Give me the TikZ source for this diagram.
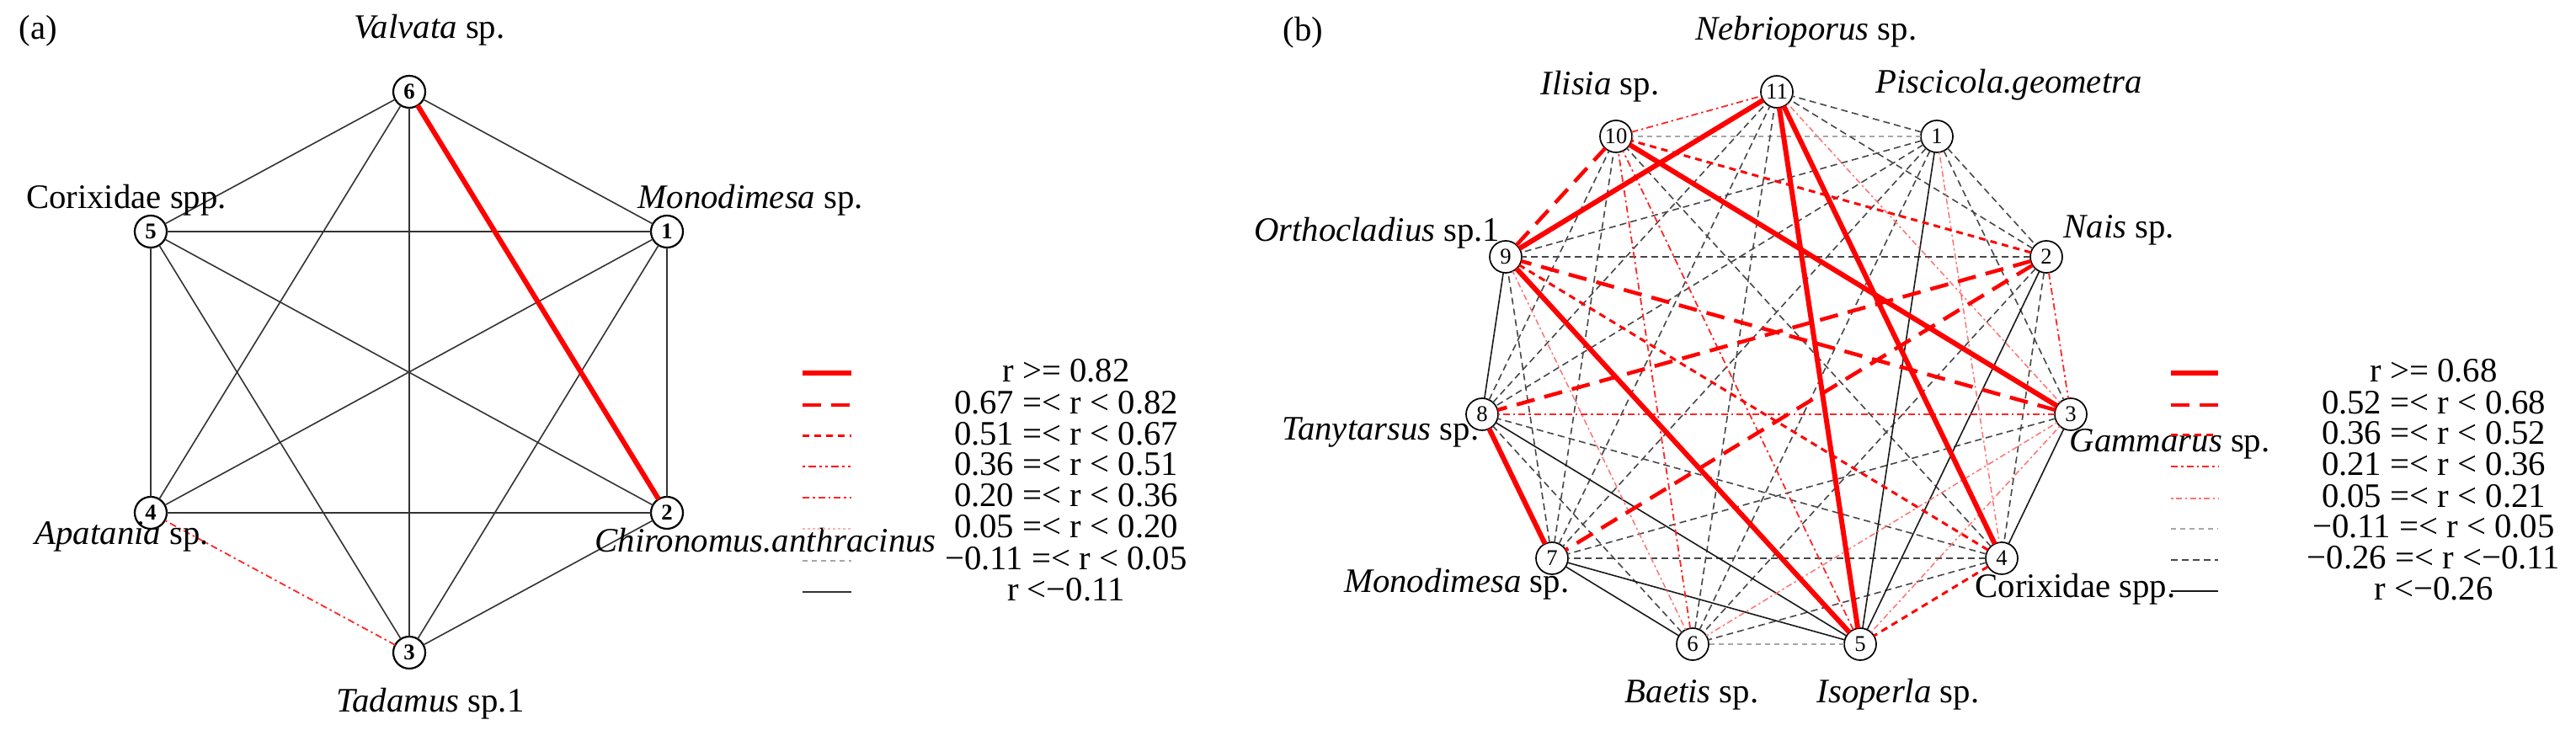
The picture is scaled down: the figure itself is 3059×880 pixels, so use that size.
\documentclass[tikz,border=0pt]{standalone}
\usepackage{fontspec}
\setmainfont{Liberation Serif}
\usepackage{tikz,tkz-graph}

\newcommand{\lbl}{\fontsize{11.6pt}{13pt}\selectfont}
\newcommand{\vnum}{\fontsize{7.6pt}{8pt}\selectfont}

\begin{document}
\begin{tikzpicture}[x = 0.1mm, y = -0.1mm]
\tikzstyle{VertexStyle} = []
\tikzstyle{EdgeStyle} = []
\tikzstyle{boldStyle}=[shape = circle, minimum size = 3.8mm, inner sep = 0pt, draw, line width = 0.22mm, fill = white, font = \vnum\bfseries]
\tikzstyle{plainStyle}=[shape = circle, minimum size = 3.8mm, inner sep = 0pt, draw, line width = 0.17mm, fill = white, font = \vnum]
\tikzstyle{nameStyle}=[inner sep = 0pt, font = \lbl]
\tikzstyle{solidRedStyle}=[red, line width = 0.6mm]
\tikzstyle{dashRedStyle}=[red, line width = 0.45mm, dash pattern = on 2.2mm off 1.2mm]
\tikzstyle{dotRedStyle}=[red, line width = 0.3mm, dash pattern = on 0.8mm off 0.6mm]
\tikzstyle{twodashRedStyle}=[red, line width = 0.22mm, dash pattern = on 0.3mm off 0.4mm on 0.9mm off 0.4mm on 0.3mm off 0.4mm]
\tikzstyle{dashdotRedStyle}=[red!85, line width = 0.18mm, dash pattern = on 0.8mm off 0.4mm on 0.25mm off 0.4mm]
\tikzstyle{pinkStyle}=[red!55, line width = 0.15mm, dash pattern = on 0.25mm off 0.35mm on 0.7mm off 0.35mm]
\tikzstyle{pinkDotStyle}=[red!30, line width = 0.15mm, dash pattern = on 0.3mm off 0.3mm]
\tikzstyle{faintStyle}=[black!35, line width = 0.16mm, dash pattern = on 0.6mm off 0.5mm]
\tikzstyle{greyDashStyle}=[black!72, line width = 0.16mm, dash pattern = on 0.8mm off 0.5mm]
\tikzstyle{greyStyle}=[black!80, line width = 0.16mm]
\tikzstyle{blackStyle}=[black!90, line width = 0.16mm]
\useasboundingbox (0,0) rectangle (3059,880);
\Vertex[style = boldStyle, x = 792, y = 275, L = {1}]{u1}
\Vertex[style = boldStyle, x = 792, y = 609, L = {2}]{u2}
\Vertex[style = boldStyle, x = 486, y = 775, L = {3}]{u3}
\Vertex[style = boldStyle, x = 179, y = 609, L = {4}]{u4}
\Vertex[style = boldStyle, x = 179, y = 275, L = {5}]{u5}
\Vertex[style = boldStyle, x = 486, y = 109, L = {6}]{u6}
\Edge[style = greyStyle](u1)(u2)
\Edge[style = greyStyle](u1)(u3)
\Edge[style = greyStyle](u1)(u4)
\Edge[style = greyStyle](u1)(u5)
\Edge[style = greyStyle](u1)(u6)
\Edge[style = greyStyle](u2)(u3)
\Edge[style = greyStyle](u2)(u4)
\Edge[style = greyStyle](u2)(u5)
\Edge[style = greyStyle](u3)(u5)
\Edge[style = greyStyle](u3)(u6)
\Edge[style = greyStyle](u4)(u5)
\Edge[style = greyStyle](u4)(u6)
\Edge[style = greyStyle](u5)(u6)
\Edge[style = dashdotRedStyle](u3)(u4)
\Edge[style = solidRedStyle](u2)(u6)
\node[nameStyle, anchor = west] (pa) at (22, 37) {(a)};
\node[nameStyle] (nu6) at (510, 36) {\textit{Valvata} sp.};
\node[nameStyle] (nu5) at (150, 238) {Corixidae spp.};
\node[nameStyle, anchor = west] (nu1) at (757, 238) {\textit{Monodimesa} sp.};
\node[nameStyle, anchor = west] (nu4) at (41, 637) {\textit{Apatania} sp.};
\node[nameStyle, anchor = west] (nu2) at (706, 642) {\textit{Chironomus.anthracinus}};
\node[nameStyle] (nu3) at (511, 836) {\textit{Tadamus} sp.1};
\draw[solidRedStyle] (953, 443) -- (1011, 443);
\draw[dashRedStyle] (953, 481) -- (1011, 481);
\draw[dotRedStyle] (953, 518) -- (1011, 518);
\draw[twodashRedStyle] (953, 554) -- (1011, 554);
\draw[dashdotRedStyle] (953, 591) -- (1011, 591);
\draw[pinkDotStyle] (953, 628) -- (1011, 628);
\draw[faintStyle] (953, 666) -- (1011, 666);
\draw[greyStyle] (953, 703) -- (1011, 703);
\node[nameStyle] (ka1) at (1266, 440) {r >= 0.82};
\node[nameStyle] (ka2) at (1266, 478) {0.67 =< r < 0.82};
\node[nameStyle] (ka3) at (1266, 515) {0.51 =< r < 0.67};
\node[nameStyle] (ka4) at (1266, 551) {0.36 =< r < 0.51};
\node[nameStyle] (ka5) at (1266, 588) {0.20 =< r < 0.36};
\node[nameStyle] (ka6) at (1266, 625) {0.05 =< r < 0.20};
\node[nameStyle] (ka7) at (1266, 663) {−0.11 =< r < 0.05};
\node[nameStyle] (ka8) at (1266, 700) {r <−0.11};
\Vertex[style = plainStyle, x = 2300, y = 162, L = {1}]{v1}
\Vertex[style = plainStyle, x = 2430, y = 305, L = {2}]{v2}
\Vertex[style = plainStyle, x = 2459, y = 492, L = {3}]{v3}
\Vertex[style = plainStyle, x = 2377, y = 663, L = {4}]{v4}
\Vertex[style = plainStyle, x = 2209, y = 765, L = {5}]{v5}
\Vertex[style = plainStyle, x = 2010, y = 765, L = {6}]{v6}
\Vertex[style = plainStyle, x = 1843, y = 663, L = {7}]{v7}
\Vertex[style = plainStyle, x = 1760, y = 492, L = {8}]{v8}
\Vertex[style = plainStyle, x = 1788, y = 305, L = {9}]{v9}
\Vertex[style = plainStyle, x = 1919, y = 162, L = {10}]{v10}
\Vertex[style = plainStyle, x = 2110, y = 109, L = {11}]{v11}
\Edge[style = faintStyle](v1)(v10)
\Edge[style = faintStyle](v5)(v6)
\Edge[style = greyDashStyle](v1)(v2)
\Edge[style = greyDashStyle](v1)(v3)
\Edge[style = greyDashStyle](v1)(v6)
\Edge[style = greyDashStyle](v1)(v7)
\Edge[style = greyDashStyle](v1)(v8)
\Edge[style = greyDashStyle](v1)(v9)
\Edge[style = greyDashStyle](v1)(v11)
\Edge[style = greyDashStyle](v2)(v4)
\Edge[style = greyDashStyle](v2)(v6)
\Edge[style = greyDashStyle](v2)(v9)
\Edge[style = greyDashStyle](v2)(v11)
\Edge[style = greyDashStyle](v3)(v7)
\Edge[style = greyDashStyle](v4)(v6)
\Edge[style = greyDashStyle](v4)(v7)
\Edge[style = greyDashStyle](v4)(v8)
\Edge[style = greyDashStyle](v4)(v10)
\Edge[style = greyDashStyle](v6)(v8)
\Edge[style = greyDashStyle](v6)(v11)
\Edge[style = greyDashStyle](v7)(v9)
\Edge[style = greyDashStyle](v7)(v10)
\Edge[style = greyDashStyle](v7)(v11)
\Edge[style = greyDashStyle](v8)(v10)
\Edge[style = greyDashStyle](v8)(v11)
\Edge[style = blackStyle](v1)(v5)
\Edge[style = blackStyle](v2)(v5)
\Edge[style = blackStyle](v3)(v4)
\Edge[style = blackStyle](v5)(v7)
\Edge[style = blackStyle](v5)(v8)
\Edge[style = blackStyle](v6)(v7)
\Edge[style = blackStyle](v8)(v9)
\Edge[style = pinkStyle](v1)(v4)
\Edge[style = pinkStyle](v3)(v5)
\Edge[style = pinkStyle](v3)(v6)
\Edge[style = pinkStyle](v3)(v11)
\Edge[style = pinkStyle](v6)(v9)
\Edge[style = dashdotRedStyle](v2)(v3)
\Edge[style = dashdotRedStyle](v3)(v8)
\Edge[style = dashdotRedStyle](v5)(v10)
\Edge[style = dashdotRedStyle](v6)(v10)
\Edge[style = dashdotRedStyle](v10)(v11)
\Edge[style = dotRedStyle](v2)(v10)
\Edge[style = dotRedStyle](v4)(v5)
\Edge[style = dotRedStyle](v4)(v9)
\Edge[style = dashRedStyle](v2)(v7)
\Edge[style = dashRedStyle](v2)(v8)
\Edge[style = dashRedStyle](v3)(v9)
\Edge[style = dashRedStyle](v9)(v10)
\Edge[style = solidRedStyle](v3)(v10)
\Edge[style = solidRedStyle](v4)(v11)
\Edge[style = solidRedStyle](v5)(v9)
\Edge[style = solidRedStyle](v5)(v11)
\Edge[style = solidRedStyle](v7)(v8)
\Edge[style = solidRedStyle](v9)(v11)
\node[nameStyle, anchor = west] (pb) at (1523, 39) {(b)};
\node[nameStyle] (nv11) at (2145, 38) {\textit{Nebrioporus} sp.};
\node[nameStyle, anchor = west] (nv1) at (2227, 101) {\textit{Piscicola.geometra}};
\node[nameStyle] (nv10) at (1900, 103) {\textit{Ilisia} sp.};
\node[nameStyle, anchor = west] (nv2) at (2450, 273) {\textit{Nais} sp.};
\node[nameStyle, anchor = east] (nv9) at (1782, 277) {\textit{Orthocladius} sp.1};
\node[nameStyle, anchor = west] (nv3) at (2457, 527) {\textit{Gammarus} sp.};
\node[nameStyle, anchor = east] (nv8) at (1757, 514) {\textit{Tanytarsus} sp.};
\node[nameStyle, anchor = west] (nv4) at (2345, 700) {Corixidae spp.};
\node[nameStyle, anchor = east] (nv7) at (1864, 694) {\textit{Monodimesa} sp.};
\node[nameStyle] (nv6) at (2009, 825) {\textit{Baetis} sp.};
\node[nameStyle] (nv5) at (2254, 825) {\textit{Isoperla} sp.};
\draw[solidRedStyle] (2578, 443) -- (2634, 443);
\draw[dashRedStyle] (2578, 481) -- (2634, 481);
\draw[dotRedStyle] (2578, 517) -- (2634, 517);
\draw[dashdotRedStyle] (2578, 554) -- (2634, 554);
\draw[pinkStyle] (2578, 592) -- (2634, 592);
\draw[faintStyle] (2578, 628) -- (2634, 628);
\draw[greyDashStyle] (2578, 665) -- (2634, 665);
\draw[blackStyle] (2578, 702) -- (2634, 702);
\node[nameStyle] (kb1) at (2890, 440) {r >= 0.68};
\node[nameStyle] (kb2) at (2890, 478) {0.52 =< r < 0.68};
\node[nameStyle] (kb3) at (2890, 514) {0.36 =< r < 0.52};
\node[nameStyle] (kb4) at (2890, 551) {0.21 =< r < 0.36};
\node[nameStyle] (kb5) at (2890, 589) {0.05 =< r < 0.21};
\node[nameStyle] (kb6) at (2890, 625) {−0.11 =< r < 0.05};
\node[nameStyle] (kb7) at (2890, 662) {−0.26 =< r <−0.11};
\node[nameStyle] (kb8) at (2890, 699) {r <−0.26};
\end{tikzpicture}
\end{document}
